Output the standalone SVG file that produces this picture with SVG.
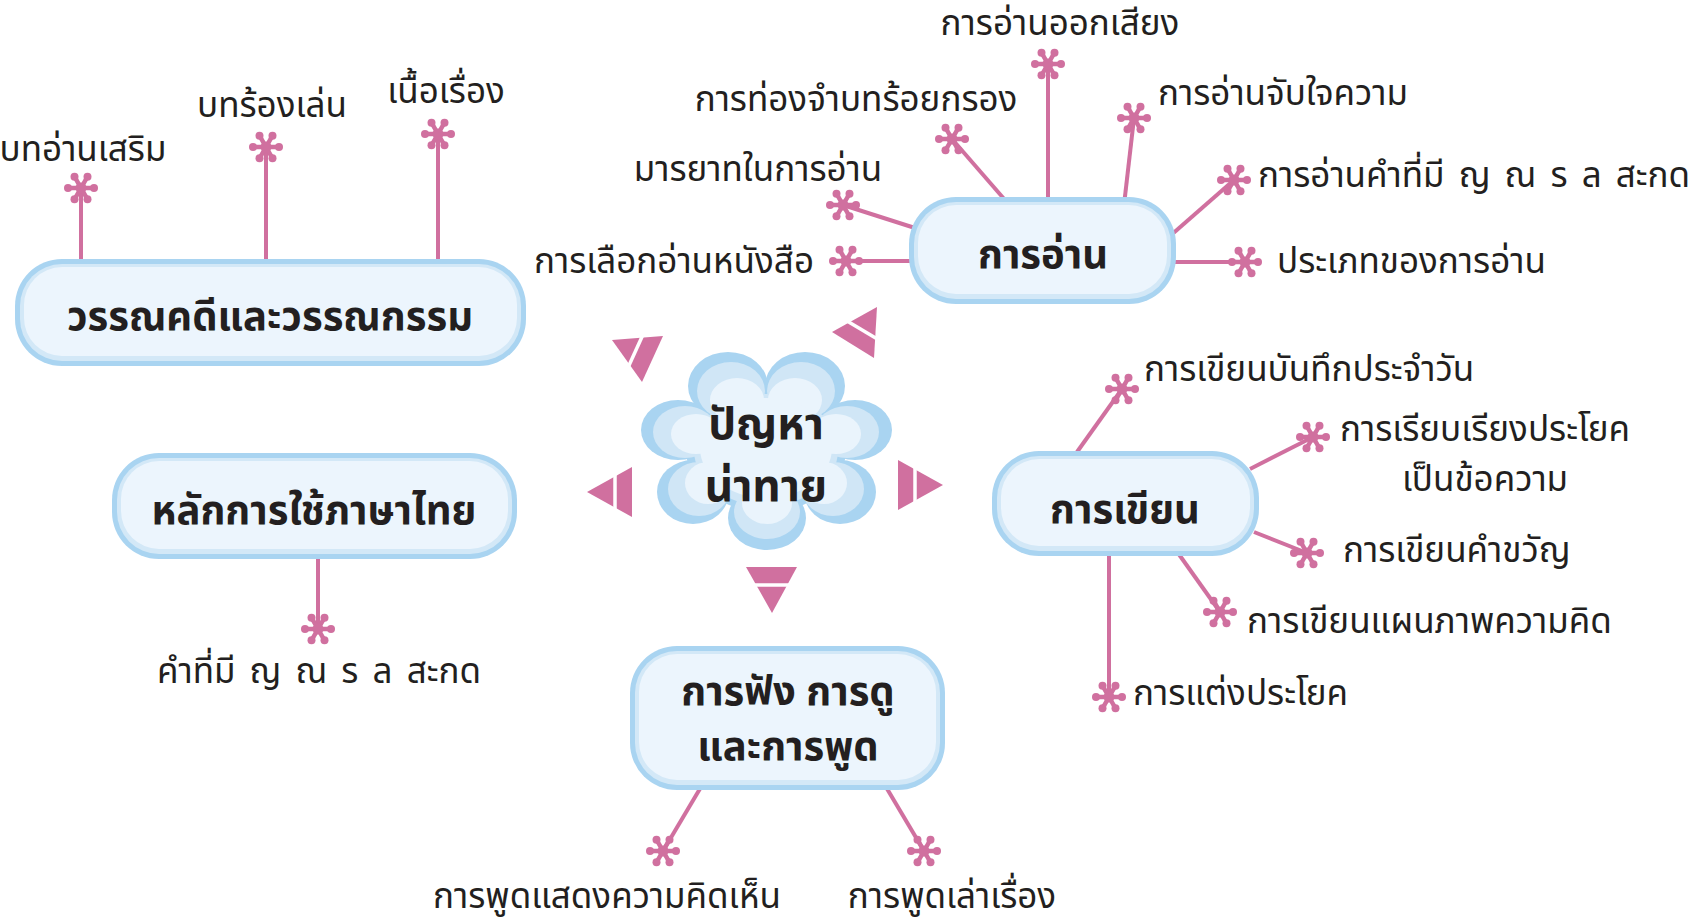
<svg xmlns="http://www.w3.org/2000/svg" xmlns:xlink="http://www.w3.org/1999/xlink" width="1691" height="921" viewBox="0 0 1691 921">
<style>
.lbl{font-family:"Noto Sans Thai","Noto Sans Thai UI","Loma","Garuda","Noto Sans",sans-serif;font-size:35px;fill:#231f20}
.ttl{font-family:"Noto Sans Thai","Noto Sans Thai UI","Loma","Garuda","Noto Sans",sans-serif;font-size:40px;font-weight:bold;fill:#231f20;text-anchor:middle}
.big{font-size:44px}
.ws{word-spacing:5px}
.b1{fill:#a9d4f1}
.b2{fill:#d3e8f7}
.b3{fill:#ecf5fd}
.f1{fill:#a9d4f1}
.f2{fill:#d0e6f6}
.f3{fill:#eaf4fc}
.con line{stroke:#d0709f;stroke-width:4}
.tri{fill:#d0709f}
.cut{stroke:#ffffff;stroke-width:3.5}
</style>
<defs>
<g id="ast">
<g stroke="#d0709f" stroke-width="4.5" stroke-linecap="round">
<line x1="0" y1="0" x2="13" y2="0"/>
<line x1="0" y1="0" x2="6.5" y2="11.3"/>
<line x1="0" y1="0" x2="-6.5" y2="11.3"/>
<line x1="0" y1="0" x2="-13" y2="0"/>
<line x1="0" y1="0" x2="-6.5" y2="-11.3"/>
<line x1="0" y1="0" x2="6.5" y2="-11.3"/>
</g>
<g fill="#d0709f">
<circle r="5.5"/>
<circle cx="13" cy="0" r="4"/>
<circle cx="6.5" cy="11.3" r="4"/>
<circle cx="-6.5" cy="11.3" r="4"/>
<circle cx="-13" cy="0" r="4"/>
<circle cx="-6.5" cy="-11.3" r="4"/>
<circle cx="6.5" cy="-11.3" r="4"/>
</g>
</g>
</defs>
<rect width="1691" height="921" fill="#ffffff"/>

<g id="connectors" class="con">
<line x1="81" y1="188" x2="81" y2="262"/>
<line x1="266" y1="147" x2="266" y2="262"/>
<line x1="438" y1="134" x2="438" y2="262"/>
<line x1="1048" y1="64" x2="1048" y2="200"/>
<line x1="952" y1="139" x2="1005" y2="200"/>
<line x1="1134" y1="118" x2="1124" y2="205"/>
<line x1="843" y1="205" x2="915" y2="228"/>
<line x1="846" y1="261" x2="912" y2="261"/>
<line x1="1234" y1="180" x2="1170" y2="236"/>
<line x1="1245" y1="262" x2="1172" y2="262"/>
<line x1="1122" y1="389" x2="1077" y2="452"/>
<line x1="1313" y1="437" x2="1250" y2="469"/>
<line x1="1307" y1="553" x2="1254" y2="532"/>
<line x1="1220" y1="612" x2="1178" y2="553"/>
<line x1="1109" y1="697" x2="1109" y2="553"/>
<line x1="318" y1="629" x2="318" y2="556"/>
<line x1="663" y1="851" x2="701" y2="787"/>
<line x1="924" y1="851" x2="886" y2="787"/>
</g>

<g id="asterisks">
<use href="#ast" x="81" y="188"/>
<use href="#ast" x="266" y="147"/>
<use href="#ast" x="438" y="134"/>
<use href="#ast" x="1048" y="64"/>
<use href="#ast" x="952" y="139"/>
<use href="#ast" x="1134" y="118"/>
<use href="#ast" x="843" y="205"/>
<use href="#ast" x="846" y="261"/>
<use href="#ast" x="1234" y="180"/>
<use href="#ast" x="1245" y="262"/>
<use href="#ast" x="1122" y="389"/>
<use href="#ast" x="1313" y="437"/>
<use href="#ast" x="1307" y="553"/>
<use href="#ast" x="1220" y="612"/>
<use href="#ast" x="1109" y="697"/>
<use href="#ast" x="318" y="629"/>
<use href="#ast" x="663" y="851"/>
<use href="#ast" x="924" y="851"/>
</g>

<g id="n-center">
<g class="f1">
<ellipse cx="728" cy="386" rx="40" ry="34"/>
<ellipse cx="805" cy="386" rx="40" ry="34"/>
<ellipse cx="855" cy="430" rx="37" ry="30"/>
<ellipse cx="840" cy="492" rx="36" ry="32"/>
<ellipse cx="767" cy="518" rx="39" ry="32"/>
<ellipse cx="693" cy="492" rx="36" ry="32"/>
<ellipse cx="678" cy="430" rx="37" ry="30"/>
<ellipse cx="766" cy="450" rx="80" ry="62"/>
</g>
<g class="f2">
<ellipse cx="731" cy="391" rx="34" ry="29"/>
<ellipse cx="801" cy="391" rx="34" ry="29"/>
<ellipse cx="847" cy="432" rx="32" ry="26"/>
<ellipse cx="833" cy="489" rx="31" ry="27"/>
<ellipse cx="767" cy="512" rx="33" ry="27"/>
<ellipse cx="699" cy="489" rx="31" ry="27"/>
<ellipse cx="685" cy="432" rx="32" ry="26"/>
<ellipse cx="766" cy="450" rx="72" ry="56"/>
</g>
<g class="f3">
<ellipse cx="737" cy="400" rx="27" ry="22"/>
<ellipse cx="795" cy="400" rx="27" ry="22"/>
<ellipse cx="836" cy="434" rx="25" ry="20"/>
<ellipse cx="824" cy="483" rx="23" ry="21"/>
<ellipse cx="767" cy="503" rx="25" ry="21"/>
<ellipse cx="708" cy="483" rx="23" ry="21"/>
<ellipse cx="696" cy="434" rx="25" ry="20"/>
<ellipse cx="766" cy="448" rx="66" ry="50"/>
</g>
<text class="ttl big" x="766" y="439">ปัญหา</text>
<text class="ttl big" x="766" y="501">น่าทาย</text>
</g>

<g id="pointers">
<polygon class="tri" points="612,340 663,336 642,382"/>
<line class="cut" x1="646" y1="328" x2="626" y2="372"/>
<polygon class="tri" points="832,332 877,307 874,358"/>
<line class="cut" x1="842" y1="318" x2="884" y2="343"/>
<polygon class="tri" points="587,492 632,467 632,517"/>
<line class="cut" x1="615" y1="460" x2="615" y2="525"/>
<polygon class="tri" points="898,460 898,510 943,485"/>
<line class="cut" x1="915" y1="452" x2="915" y2="518"/>
<polygon class="tri" points="746,567 797,567 772,613"/>
<line class="cut" x1="740" y1="585" x2="805" y2="585"/>
</g>

<g id="n-lit">
<rect class="b1" x="15" y="259" width="511" height="107" rx="47"/>
<rect class="b2" x="20" y="264" width="501" height="97" rx="42"/>
<rect class="b3" x="24" y="267" width="493" height="89" rx="38"/>
<text class="ttl" x="270" y="330">วรรณคดีและวรรณกรรม</text>
</g>
<g id="n-reading">
<rect class="b1" x="909" y="197" width="267" height="107" rx="47"/>
<rect class="b2" x="914" y="202" width="257" height="97" rx="42"/>
<rect class="b3" x="918" y="205" width="249" height="89" rx="38"/>
<text class="ttl" x="1043" y="268">การอ่าน</text>
</g>
<g id="n-thai">
<rect class="b1" x="112" y="453" width="405" height="106" rx="47"/>
<rect class="b2" x="117" y="458" width="395" height="96" rx="42"/>
<rect class="b3" x="121" y="461" width="387" height="88" rx="38"/>
<text class="ttl" x="314" y="524">หลักการใช้ภาษาไทย</text>
</g>
<g id="n-writing">
<rect class="b1" x="992" y="451" width="267" height="105" rx="47"/>
<rect class="b2" x="997" y="456" width="257" height="95" rx="42"/>
<rect class="b3" x="1001" y="459" width="249" height="87" rx="38"/>
<text class="ttl" x="1125" y="523">การเขียน</text>
</g>
<g id="n-listen">
<rect class="b1" x="630" y="646" width="315" height="144" rx="47"/>
<rect class="b2" x="635" y="651" width="305" height="134" rx="42"/>
<rect class="b3" x="639" y="654" width="297" height="126" rx="38"/>
<text class="ttl" x="788" y="705">การฟัง การดู</text>
<text class="ttl" x="788" y="760">และการพูด</text>
</g>

<g id="labels" class="lbl">
<text x="83" y="161" text-anchor="middle">บทอ่านเสริม</text>
<text x="272" y="117" text-anchor="middle">บทร้องเล่น</text>
<text x="446" y="103" text-anchor="middle">เนื้อเรื่อง</text>
<text x="1060" y="35" text-anchor="middle">การอ่านออกเสียง</text>
<text x="856" y="111" text-anchor="middle">การท่องจำบทร้อยกรอง</text>
<text x="1158" y="105">การอ่านจับใจความ</text>
<text x="758" y="181" text-anchor="middle">มารยาทในการอ่าน</text>
<text class="ws" x="1258" y="187">การอ่านคำที่มี ญ ณ ร ล สะกด</text>
<text x="674" y="273" text-anchor="middle">การเลือกอ่านหนังสือ</text>
<text x="1277" y="273">ประเภทของการอ่าน</text>
<text x="1144" y="381">การเขียนบันทึกประจำวัน</text>
<text x="1485" y="441" text-anchor="middle">การเรียบเรียงประโยค</text>
<text x="1485" y="491" text-anchor="middle">เป็นข้อความ</text>
<text x="1343" y="562">การเขียนคำขวัญ</text>
<text x="1247" y="633">การเขียนแผนภาพความคิด</text>
<text x="1133" y="705">การแต่งประโยค</text>
<text class="ws" x="319" y="683" text-anchor="middle">คำที่มี ญ ณ ร ล สะกด</text>
<text x="607" y="908" text-anchor="middle">การพูดแสดงความคิดเห็น</text>
<text x="952" y="908" text-anchor="middle">การพูดเล่าเรื่อง</text>
</g>
</svg>
